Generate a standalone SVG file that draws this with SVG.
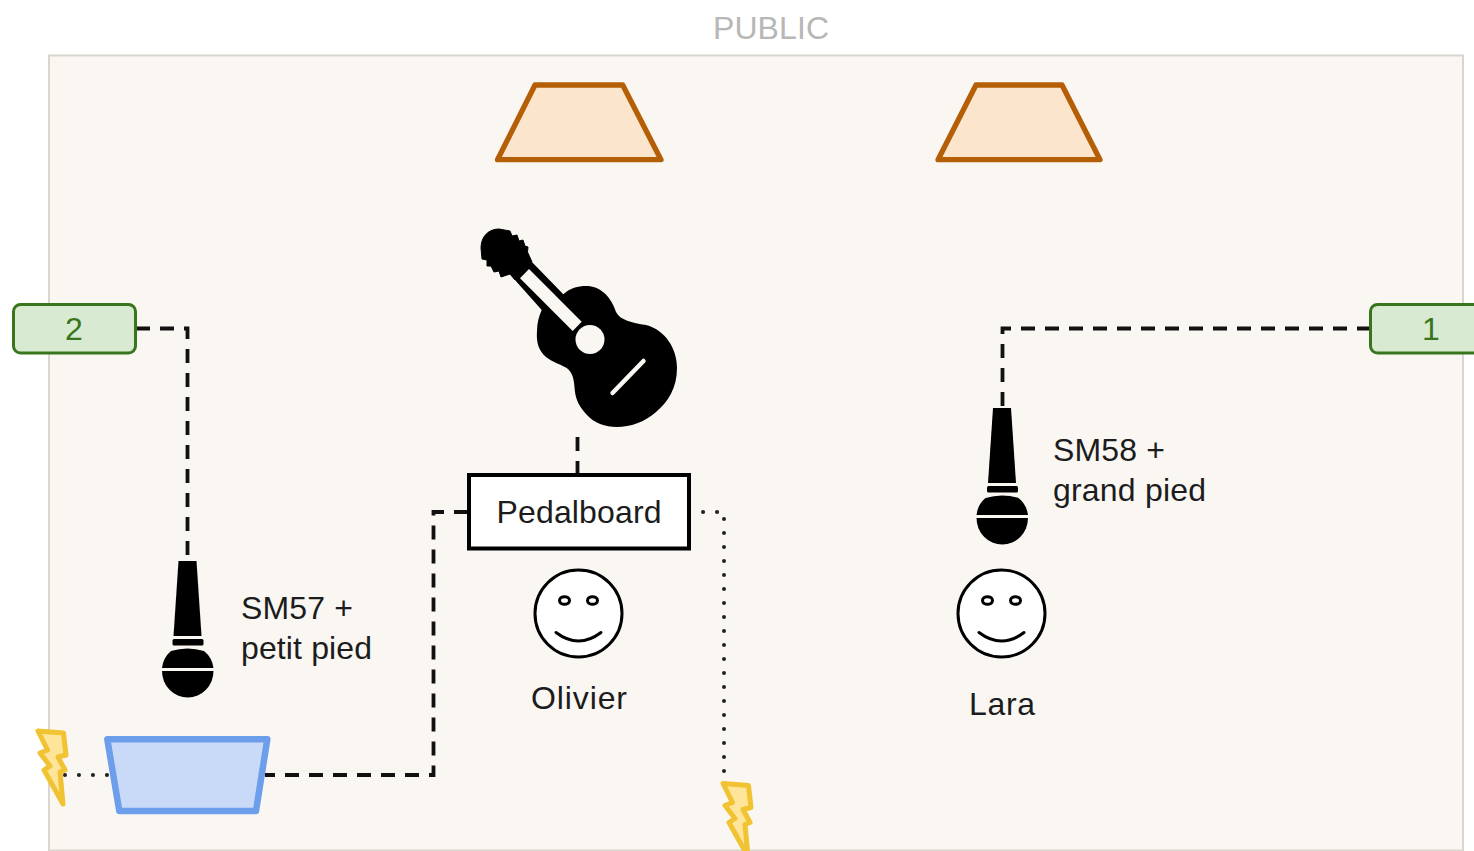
<svg xmlns="http://www.w3.org/2000/svg" width="1474" height="851" viewBox="0 0 1474 851">
<style>
text{font-family:"Liberation Sans",Arial,sans-serif;font-size:32px;fill:#1c1c1c}
.mid{text-anchor:middle}
.dash{fill:none;stroke:#111;stroke-width:3.800;stroke-dasharray:14 10}
.dot{fill:none;stroke:#222;stroke-width:4;stroke-linecap:round;stroke-dasharray:0.1 13.9}
.spk{fill:#fce5cd;stroke:#b45f06;stroke-width:5.300;stroke-linejoin:round}
.tag{fill:#d9ead3;stroke:#38761d;stroke-width:3}
.face{fill:#fff;stroke:#000;stroke-width:3}
.bolt{fill:#ffe599;stroke:#f1c232;stroke-width:5;stroke-linejoin:round}
</style>
<defs>
<g id="mic">
<path d="M178.500 561H196.500L201.500 636H173.500Z" fill="#000"/>
<rect x="172.500" y="639" width="31" height="6.500" rx="1.500" fill="#000"/>
<path d="M162 668A26 26 0 0 1 171 651Q187.500 646 204 651A26 26 0 0 1 213.500 668Z" fill="#000"/>
<path d="M162 671H213.500A25.750 26.500 0 0 1 162 671Z" fill="#000"/>
</g>
<g id="smile">
<circle cx="0" cy="0" r="43.500" class="face"/>
<ellipse cx="-14" cy="-13" rx="5" ry="3.800" fill="none" stroke="#000" stroke-width="3"/>
<ellipse cx="14" cy="-13" rx="5" ry="3.800" fill="none" stroke="#000" stroke-width="3"/>
<path d="M-22.500 19Q0 36 22.500 19" fill="none" stroke="#000" stroke-width="3" stroke-linecap="round"/>
</g>
<path id="boltShape" class="bolt" d="M38 731L63.500 733L66 755L58 757L65 770L60 772L63 804L44 770L50 766L40 753L47.500 750Z"/>
</defs>
<rect id="stage" x="49" y="55.500" width="1414" height="795" fill="#faf7f3" stroke="#d9d5cf" stroke-width="2"/>
<g id="public"><text class="mid" x="771" y="39" style="fill:#b7b7b7" textLength="116">PUBLIC</text></g>
<g id="monitor"><path d="M107.300 739.300H267.300L256 811H119.300Z" fill="#c9daf8" stroke="#6d9eeb" stroke-width="6.500" stroke-linejoin="round"/></g>
<g id="power-left"><use href="#boltShape"/></g>
<g id="power-right"><use href="#boltShape" x="685" y="52.500"/></g>
<g id="connectors">
<path class="dash" d="M136 328.500H187.500V558"/>
<path class="dash" d="M1371 328.500H1002.500V408"/>
<path class="dash" d="M577.500 437V474"/>
<path class="dash" d="M468 512H433.500V775H265"/>
<path class="dot" d="M689 512H724V775"/>
<path class="dot" d="M107 775H65"/>
</g>
<g id="speaker-left"><path class="spk" d="M535 85H622.700L661 159.700H497.500Z"/></g>
<g id="speaker-right"><path class="spk" d="M976 85H1062L1100 159.700H938Z"/></g>
<g id="input-2"><rect class="tag" x="13.500" y="304.500" width="122" height="48.500" rx="7"/><text class="mid" x="74" y="340" style="fill:#38761d">2</text></g>
<g id="input-1"><rect class="tag" x="1370.500" y="304.500" width="122" height="48.500" rx="7"/><text class="mid" x="1431" y="340" style="fill:#38761d">1</text></g>
<g id="guitar">
<path fill="#000" d="M531.700 261.700L563.300 294.300C570 288 578 286 586 286C600 286 611 296 616 312C620 320 632 323 646 325C665 330 677 348 677 368C677 388 668 402 656 412C645 422 630 427 617 427C605 427 594 423 587 415C580 408 576 400 575 392C574 382 574 375 568 369C563 365 552 362 546 357C539 351 536 343 537 331C537 323 539 316 541.700 310L515 280Z"/>
<path fill="#000" stroke="#000" stroke-width="1" stroke-linejoin="round" d="M481 248C481 236 489 229 499 229L510 231L512 236L517 235L519 241L523 240L525 246L528 247L527.500 252L532 262L515 280L510 274L501 277L499 271L494 272L491 266L487 266L487 260L482 259Z"/>
<path fill="#faf7f3" d="M529 269L581.700 321.700L572.700 331L520 278.300Z"/>
<circle cx="590" cy="339.500" r="14.500" fill="#faf7f3"/>
<path d="M643.500 361L612.500 393" fill="none" stroke="#faf7f3" stroke-width="4.500" stroke-linecap="round"/>
</g>
<g id="pedalboard"><rect x="469" y="475" width="220" height="73.500" fill="#fff" stroke="#000" stroke-width="4"/><text class="mid" x="579" y="523" textLength="165">Pedalboard</text></g>
<g id="mic-sm57"><use href="#mic"/><text x="241" y="619" textLength="112">SM57 +</text><text x="241" y="659" textLength="131">petit pied</text></g>
<g id="mic-sm58"><use href="#mic" x="814.500" y="-153"/><text x="1053" y="461" textLength="112">SM58 +</text><text x="1053" y="501" textLength="153">grand pied</text></g>
<g id="olivier"><use href="#smile" x="578.500" y="613.500"/><text class="mid" x="579" y="709" textLength="96">Olivier</text></g>
<g id="lara"><use href="#smile" x="1001.500" y="613.500"/><text class="mid" x="1002" y="715" textLength="66">Lara</text></g>
</svg>
